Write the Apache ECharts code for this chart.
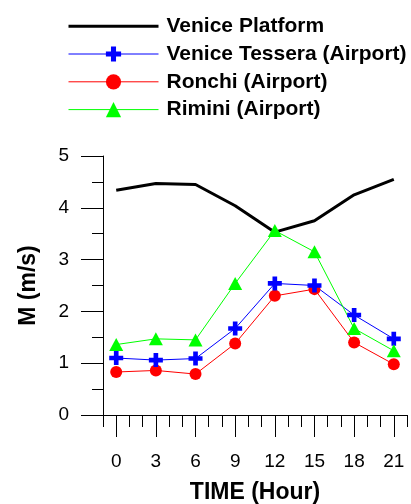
<!DOCTYPE html>
<html>
<head>
<meta charset="utf-8">
<script src="https://cdn.jsdelivr.net/npm/echarts@6/dist/echarts.min.js"></script>
<style>
html,body{margin:0;padding:0;background:#fff;}
#c{width:411px;height:504px;}
</style>
</head>
<body>
<div id="c"></div>
<script>
var hours = [0, 3, 6, 9, 12, 15, 18, 21];
var xTickLabels = [0, 3, 6, 9, 12, 15, 18, 21];
var yTickLabels = [0, 1, 2, 3, 4, 5];
var seriesNames = ['Venice Platform', 'Venice Tessera (Airport)', 'Ronchi (Airport)', 'Rimini (Airport)'];
var venicePlatform = [4.34, 4.47, 4.45, 4.04, 3.53, 3.75, 4.25, 4.55];
var veniceTessera = [1.10, 1.06, 1.09, 1.67, 2.54, 2.50, 1.93, 1.47];
var ronchi = [0.83, 0.86, 0.79, 1.38, 2.30, 2.43, 1.40, 0.98];
var rimini = [1.36, 1.47, 1.45, 2.54, 3.56, 3.15, 1.67, 1.24];

function pairs(vals) { return hours.map(function (h, i) { return [h, vals[i]]; }); }

var FONT = "'Liberation Sans', Arial, sans-serif";
var crossPath = 'path://M5,0h5v5h5v5h-5v5h-5v-5h-5v-5h5z';

var chart = echarts.init(document.getElementById('c'), null, {renderer: 'canvas'});
chart.setOption({
  animation: false,
  backgroundColor: '#fff',
  textStyle: {fontFamily: FONT},
  legend: {
    orient: 'vertical',
    left: 67,
    top: 15.7,
    padding: 0,
    itemWidth: 90,
    itemHeight: 19,
    itemGap: 6.8,
    textStyle: {fontSize: 21, fontWeight: 'bold', color: '#000', fontFamily: FONT, padding: [0, 0, 0, 3]},
    data: [
      {name: seriesNames[0], itemStyle: {opacity: 0}, lineStyle: {width: 3}},
      {name: seriesNames[1], lineStyle: {width: 1}},
      {name: seriesNames[2], lineStyle: {width: 1}},
      {name: seriesNames[3], lineStyle: {width: 1}}
    ]
  },
  grid: [
    {left: 103, right: 4, top: 156, bottom: 89, containLabel: false, outerBoundsMode: 'none'},
    {left: 103, right: 4, top: 156, bottom: 89, containLabel: false, outerBoundsMode: 'none'}
  ],
  xAxis: [
    {
      type: 'value', gridIndex: 0, min: -1, max: 22, position: 'bottom',
      name: 'TIME (Hour)', nameLocation: 'middle', nameGap: 66,
      nameTextStyle: {fontSize: 23, fontWeight: 'bold', color: '#000', fontFamily: FONT},
      axisLine: {show: true, onZero: false, lineStyle: {color: '#000', width: 1}},
      axisTick: {show: true, length: 22, customValues: xTickLabels, lineStyle: {color: '#000', width: 1}},
      axisLabel: {show: true, customValues: xTickLabels, fontSize: 19, color: '#000', margin: 37, fontFamily: FONT},
      splitLine: {show: false}
    },
    {
      type: 'value', gridIndex: 1, min: -1, max: 22, interval: 1, position: 'bottom',
      axisLine: {show: false},
      axisTick: {show: true, length: 12, lineStyle: {color: '#000', width: 1}},
      axisLabel: {show: false},
      splitLine: {show: false}
    }
  ],
  yAxis: [
    {
      type: 'value', gridIndex: 0, min: 0, max: 5, interval: 1,
      name: 'M (m/s)', nameLocation: 'middle', nameGap: 63,
      nameTextStyle: {fontSize: 23, fontWeight: 'bold', color: '#000', fontFamily: FONT},
      axisLine: {show: true, onZero: false, lineStyle: {color: '#000', width: 1}},
      axisTick: {show: true, length: 22, lineStyle: {color: '#000', width: 1}},
      minorTick: {show: true, splitNumber: 2, length: 11, lineStyle: {color: '#000', width: 1}},
      axisLabel: {fontSize: 19, color: '#000', margin: 34, fontFamily: FONT},
      splitLine: {show: false}
    },
    {
      type: 'value', gridIndex: 1, min: 0, max: 5, show: false
    }
  ],
  series: [
    {
      name: seriesNames[0], type: 'line', xAxisIndex: 0, yAxisIndex: 0,
      data: pairs(venicePlatform), symbol: 'none', color: '#000',
      lineStyle: {color: '#000', width: 3}
    },
    {
      name: seriesNames[2], type: 'line', xAxisIndex: 0, yAxisIndex: 0,
      data: pairs(ronchi), symbol: 'circle', symbolSize: 12, color: '#ff0000',
      itemStyle: {color: '#ff0000', borderWidth: 0},
      lineStyle: {color: '#ff0000', width: 1}
    },
    {
      name: seriesNames[1], type: 'line', xAxisIndex: 0, yAxisIndex: 0,
      data: pairs(veniceTessera), symbol: crossPath, symbolSize: 14, color: '#0000ff',
      itemStyle: {color: '#0000ff', borderWidth: 0},
      lineStyle: {color: '#0000ff', width: 1}
    },
    {
      name: seriesNames[3], type: 'line', xAxisIndex: 0, yAxisIndex: 0,
      data: pairs(rimini), symbol: 'triangle', symbolSize: [14, 13], color: '#00ff00',
      itemStyle: {color: '#00ff00', borderWidth: 0},
      lineStyle: {color: '#00ff00', width: 1}
    }
  ]
});
</script>
</body>
</html>
